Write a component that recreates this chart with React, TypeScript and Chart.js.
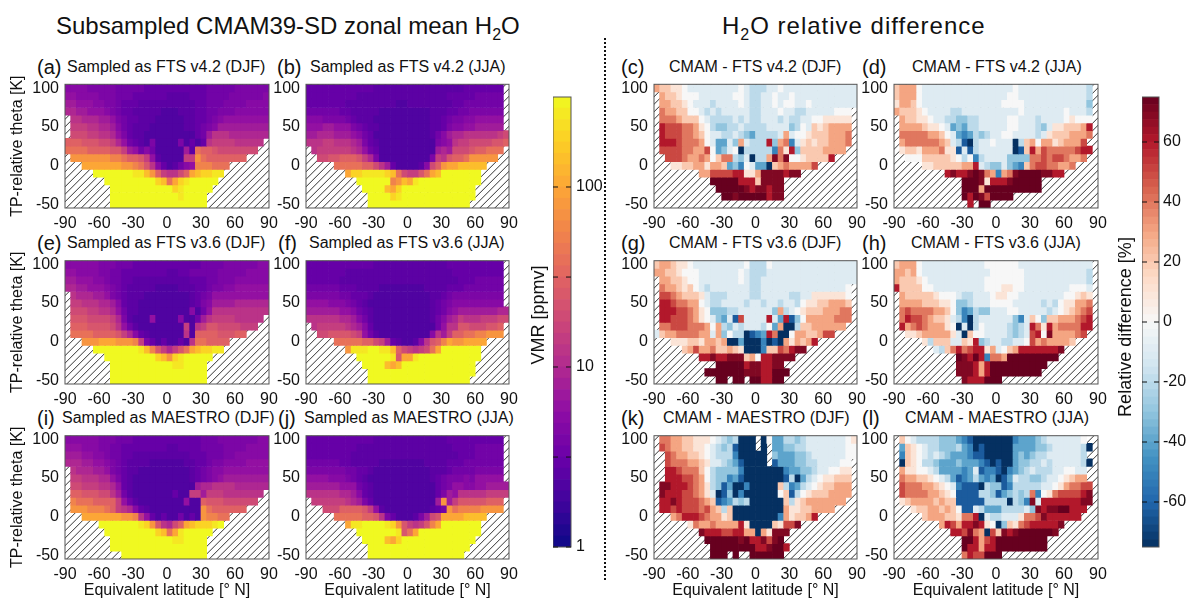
import React, { useEffect, useRef } from "react";
import { Chart, registerables } from "chart.js";

Chart.register(...registerables);
Chart.defaults.font.family = "'Liberation Sans', Arial, sans-serif";

// ---- data: latitude bin centres, theta bin centres ----
const LATS = [-87.5,-82.5,-77.5,-72.5,-67.5,-62.5,-57.5,-52.5,-47.5,-42.5,-37.5,-32.5,-27.5,-22.5,-17.5,-12.5,-7.5,-2.5,2.5,7.5,12.5,17.5,22.5,27.5,32.5,37.5,42.5,47.5,52.5,57.5,62.5,67.5,72.5,77.5,82.5,87.5];
const THETAS = [100,90,80,70,60,50,40,30,20,10,0,-10,-20,-30,-40,-50];
const X_TICKS = [-90,-60,-30,0,30,60,90];
const Y_TICKS = [-50,0,50,100];

// one letter per cell; "." is no data. Letters index the value tables below.
const VMR_CODES = "abcdefghijklmnopqrstuv";
const VMR_VALUES = [2.2,2.6,3,3.6,4.2,5,6,7.5,9.5,12,15,19,24,30,40,55,75,100,140,190,250,316];
const DIFF_CODES = "abcdefghijklmnop";
const DIFF_VALUES = [-75,-63,-50,-40,-30,-20,-10,0,10,20,30,40,50,60,70,75];

const PANEL_A = [
"ffffee eeeddd ddcccc cccccc cddddd eeeeee",
"ggffff eeeddd cccccc bbbbcc cdddde eeeeef",
"hhgggf feedcc cbbbbb bbbbbc cdddee eeffff",
"iihhgg gfedcc bbbbba aabbbc cddeee ffffff",
".jjiii hhgedc cbbbaa aaabbc cdefgg gggggg",
".kkkjj iihfdc bbbaaa aaabbc defhhh hhhhhh",
".lllkk jjigec bbaaaa aaaaac dhjjji iiiiii",
"nnnmmm llkigd cbaeaa aaeaca cjkkkk jjjjj.",
"oooonn nnmmkh gdfdaa aaahbo nnmlll llll..",
".qqqqq qqppon nmkgba aaakkq onnnnn nn....",
"...rrr rrrrqq pomjfc abdfgp ppooo. ......",
".....v vvvvvv uusqnk jjlnrs ttuu.. ......",
"...... .vvvvv vvvvts ortuvv vvv... ......",
"...... ..vvvv vvvvvv vtuvvv vv.... ......",
"...... ..vvvv vvvvvv vvuvvv v..... ......",
"...... ..vvvv vvvvvv vvvvvv v..... ......",
];
const PANEL_B = [
"cccccc cccccc bbbbbb bbbbbb bbbbcc ccccc.",
"cccccc cccbbb bbbbbb bbbbbb bccccc ddddd.",
"cccccc cbbbbb bbbbaa bbbbbb bbccdd ddddd.",
"dddddd ccbbbb baaaaa aaaabb bccdde eeeee.",
"fffeee edcbbb aaaaaa aaaabb cdeeff ggggg.",
"ggghhg ggedcb baaaaa aaaabb ceffgg hhhhh.",
"hhiiih hhgfdc aaaaaa aaaabd fhiijj jjjjkl",
"jjjkkj jjihec baaaaa aaaaae fgjkkl lllmmn",
".jkkkk kkjigd caaaaa aaaaah ihlllm nnooo.",
"..llmm nnnmki eaaaaa aaaaek jmnnoq qqqq..",
".....o oooonn ljhcaa aabfln qrrsss ss....",
"...... .rttuu uutsol kkmors vvvvvv v.....",
"...... ...vvv vvvpqs ruvvvv vvvvvv v.....",
"...... ....vv vvsrtv vvvvvv vvvvvv ......",
"...... .....v vvvtuv vvvvvv vvvvvv ......",
"...... .....v vvvvvv vvvvvv vvvvv. ......",
];
const PANEL_E = [
"ffffff eeeddd cccccc cccccc ddddee eeeeff",
"ggffff eeddcc cccccc bbccdd dddeee eeffff",
"hhgggf feddcc bbbbbb bbbbcc cddeee ffffff",
"iihhgg gfedcb bbbbaa aabbbc cdeeff gggggg",
".jiiih hgedcb bbaaaa aaaabc degggg gggggg",
".kkjjj iihfcb baaaaa aaaabc efhhhh iiiiii",
".lllkk jjigdb baaaaa aaaafa dgjjjj jjjjjj",
".mmmll llkieb aaagaa aafaad hjkkkk jjjjj.",
".nnnmm mmljgd baaaaa aaakaj kmmlll lkkk..",
".oooon nnnmki fcbaaa aaajan nnnmmm nn....",
"...qqq rrrqqq pkecac aacajo onnnn. ......",
".....v vvvvvv vuspmk ikmors ttuu.. ......",
"...... .vvvvv vvvvts qtuvvv vv.... ......",
"...... ..vvvv vvvvvv vuuvvv v..... ......",
"...... ..vvvv vvvvvv vvvvvv v..... ......",
"...... ..vvvv vvvvvv vvvvvv v..... ......",
];
const PANEL_F = [
"cccccc cccccc bbbbbb bbbbbb bccccc ccccc.",
"cccccc cbbbbb bbbbbb bbbbbb bbcccc ccccc.",
"cccccc bbbbbb bbbbbb bbbbbb bbbccc ddddd.",
"dddddd cccbbb baaaaa aaabbb bcccdd ddddd.",
"eeeeee ddcccb aaaaaa aaaabb cdeeee eeeee.",
"ggggff fedcba aaaaaa aaaabc deffff fffff.",
"hhhhhh ggfdcb aaaaaa aaaabc dfghhh hhhhii",
"jjjjjj iihfdb aaaaaa aaaabd fhikjj jkkkll",
".jkkkk kjihfc aaaaaa aaaaad gjjmml llmmn.",
"..llmm mmlkgd baaaaa aaaafj hknnoo ppqqq.",
".....o oooonn lkhcba abfjmn prqqrr rr....",
"...... .quuuv vuusnl kjklor vvvvvv v.....",
"...... ...vvv vvvumr ruvvvv vvvvvv v.....",
"...... ....vv vvsrsv vvvvvv vvvvvv ......",
"...... .....v vvvvvv vvvvvv vvvvvv ......",
"...... .....v vvvvvv vvvvvv vvvvv. ......",
];
const PANEL_I = [
"ffffff eeeddd cccccc cccccc dddeee eeeeff",
"gggfff eeddcc cccccc bbcccc ddddee eeffff",
"hhhggf feddcc bbbbbb bbbbcc cdddee ffffff",
"iiihhg gfedcb bbbaaa aaabbc cdeeff ffgggg",
".jiiih hgedcb baaaaa aaaabc deffgg gggggg",
".kkjjj iigecb aaaaaa aaaabc defghh hhhhhh",
".llkkk jjigcb aaaaaa aaaaah iijjjj iiiiii",
".nnmmm lljhdb aaaaaa acaakk hkkkjj jjjjj.",
".pooon nnnkgd baaaaa aaagaa nmmmll llll..",
".qqqpp ponkji fcbaaa aaaaaa qonnnn nn....",
"...rrr rrrrqq pjgcac aadaca qppoo. ......",
"...... vvvvvv vutqmj ilnrst ttuv.. ......",
"...... .vvvvv vvvvts oruvvv vv.... ......",
"...... ..vvvv vvvvvv vuuvvv v..... ......",
"...... ..vvvv vvvvvv vvvvvv v..... ......",
"...... ....vv vvvvvv vvvvvv v..... ......",
];
const PANEL_J = [
"cccccc cccccc bbbbbb bbbbbb bccccc ccccc.",
"cccccc cccbbb bbbbbb bbbbbb bbcccc ddddd.",
"cccccc ccbbbb bbbbbb bbbbbb bbbccc ddddd.",
"dddddd ccbbbb baaaaa aaabbb bcccdd ddddd.",
"eeeeee eddccb aaaaaa aaaabb bcdddd eeeee.",
"ggggff fedcba aaaaaa aaaabc deeefe ggggg.",
"hhhhhh gggdcb aaaaaa aaaaac deggff gghhhh",
"jjjjjj iihfcb aaaaaa aaaaac ehgjjj jjkkkk",
".kkkkk kjihec aaaaaa aaaaah qhkmmm mmnnn.",
"...lll nnnnmk gbaaaa aaaabc dqoppp pqqqq.",
".....o oooonn mjecaa abehlm rrrrss ss....",
"...... .ruuvv vvutqm kjkmpr vvvvvv v.....",
"...... ...vvv vvvvum orvvvv vvvvvv v.....",
"...... ....vv vvsrtv vvvvvv vvvvvv ......",
"...... .....v vvvvvv vvvvvv vvvvv. ......",
"...... .....v vvvvvv vvvvvv vvvv.. ......",
];
const PANEL_C = [
"kjjiih gggggg ggghgf ffgghg gggggg gggggg",
".kjjih hhgggg gghhgf fgghgg hggggg gggggg",
".kkjji hgggfg ggghgf fgghgh hgghgg gggggg",
".lkkjj hhgfgf gggggf fggghg gffggg gghhh.",
".lllkj jjhgff ffgfgf fgggfg ffgghh iiiii.",
".nmmml lkihfe effgff ffgggg efhgji jkkkk.",
".nmmml lkjhgg ffgfed ffffgk ghhijj jkkkl.",
".nnnml llkhgd dgekgf ffnekl cgijij jkkkl.",
".mmmml lkkmhd eghaff fffcli nejjjj kkkk..",
"..mmml kklkhj llfega ffkolo hhijjj jn....",
"...iij jkkikk jdechg ddajkl kkkkm. ......",
"...... ..kkmm mmnnii koooon oo.... ......",
"...... ....pp pppnnn joooo. ...... ......",
"...... .....p ppppon oonoo. ...... ......",
"...... ...... ppoppp ppnoo. ...... ......",
"...... ...... ...... ...... ...... ......",
];
const PANEL_D = [
"jkkkhg gggggg gggggg ggghgg gggggg ggggf.",
"jkkkhg gggggg gggggg gghhgg gggggg ggggf.",
"ikkjhg gggggg gggggg ghhhhg gggggg gggge.",
"kjjjih ggggff gggggg gggghg gggggg hgggf.",
".kjjii hggffe effggg gghhgg gfgggg hihhh.",
".kkkkj iihgde dffggg gghhgg gfegii jjjkn.",
".lllll kkjhgd cdfefg ghhggg gfgijj jkkkl.",
".kllll llkjgf bafggh gggafj khkkij kkkm..",
".ijjik kkliib gbfggg gggabj nkmlll llmnn.",
"..hhhj jjjjih fhcfgg ggeeee llmlmm lkkl..",
".....i ijjjjj kkngfe egedcj lmmllk kl....",
"...... ...non nopolk cklopp ppoonn ......",
"...... ...... pppoin nnoppp pp.... ......",
"...... ...... pppkpp pppppp pp.... ......",
"...... ...... pnpomp ppp... ...... ......",
"...... ...... .n.pp. ...... ...... ......",
];
const PANEL_G = [
"jkkjii hggggg gggghf ffhggg gggggg gggggg",
"kkjjih hhgggg ggghgf ffgggg gggggg gggggg",
".kkjji hhgggg ggghgf fggggg gggggg gggggg",
".lkkji jhgfgg gggggf fggggg gggggg ggggh.",
".mmlkj jjigff fggggf fggggg ffggii iiiih.",
".nnmll kkhgff ggggfg gfggfg gfhiij jkkkj.",
".nnnmm lkihee effggg gggekf ghijjj kkkll.",
".nnmmm lkihge dgbmgg ggngdn behkkk kklll.",
".llmmm lllkhk fegfgg gfhdka afjjkk kkkk..",
"gjkkll llkkgk ehffab cdnlaa hkkjjk mm....",
"...iii jjikkj kaadaa acabak ikjkn. ......",
".....j kmkklj jkjiaa acjjml noo... ......",
"...... ..nnon nooojk hnnooo o..... ......",
"...... .....p ppppno onnoo. ...... ......",
"...... ...ppp ppppoo onnppp ...... ......",
"...... .....p p.pp.p pnnpp. ...... ......",
];
const PANEL_H = [
"jkkkhg gggggg gggghh hhhhgg gggggg ggggg.",
"kkjkhg gggggg gggggh hhhhhg gggggg ggggf.",
"kjjjih gggggg gggghh hhhhhg gggggg ggggf.",
"njjjjh hggggg gggghh hiihhg gggggg ghhhg.",
".kjjjj jihhhg ffgggh iihhgg gggggg hhiji.",
".kkkkj jjiihe efgggh hhhggg ggfgfh iikkl.",
".lmlll lkkjhe cdfeeg gghhgg gggfgh ijklm.",
".lnmml kjjigf cafggg gggecg jhejjk kklmn.",
".nklml kkkiha gafhgg ggfefg nlinkl lllnn.",
"..iijk kkkkig ajhhgg ggfefg mnhokk kklm..",
".....i fjjjgg jinefg gffggh mklkkk kj....",
"...... .gfjln lmnnik ghjknn nnnnno ......",
"...... .....p onpncl lkpppp ppppp. ......",
"...... .....o oonknp pppppp ppp... ......",
"...... .....o oonknp pppppp pp.... ......",
"...... ...... onnnpp p..... ...... ......",
];
const PANEL_K = [
".llkkj jiiihg fefaaa .ahddf fefggg gggghi",
".mlkkj jiihgf efbaaa .a.dde effggg gggghh",
"..mlkk jjihgf ffcaaa aa.edd deefgg gggghh",
"..mlll kkjigg fedbaa aa.bdd deeffg ggghh.",
"..nnml lljhfe eeecaa aaaaac ddeefg ghhii.",
"..nnnm mlkhfe ecdbaa aaaaab fadfgh iijjj.",
".oonnn mlkife bdaaca aaaajf cdfghi jjkkk.",
".onnnm mlkiga beacaa aaaahj bfhijj jkkkk.",
".nnonm mmlkjb cdfefa aaaaaj fijkkk kkkk..",
".nnmnm mmlmkj fjaaaa aaaaak iijjkk kk....",
"...kln nnmlkk ijaaaa aaaack ijjkn. ......",
"...... ilkklk kkknia aaajim mo.... ......",
"...... ..onnn mmnnkk akiooo ...... ......",
"...... ...ppp pppopn nomop. ...... ......",
"...... ....pp pppppp nnoppn ...... ......",
"...... ....pp p.p..p ppppp. ...... ......",
];
const PANEL_L = [
".jhgff ffeeed cbaaaa aaacdd defggg gggh..",
".djihg ffeeef dcabaa aaaddd deefgg gggfa.",
".cjihg fgfedd dcbbaa aaaded effggg gggf..",
".ajihf feddde dddcba baadee ffgfgg gggfa.",
".kiihh gfdddd cdgbcc bacdef gfffgg hhgg..",
".lkkjj ihgfdb cdfdcd abdgff eefggh ijkk..",
".mlllk kjihgc bbbafe ebcfff ffgghi kllmm.",
".mllll kkjihb bbbffe bdefef lchilm mmmno.",
".ijkkk kjkjjb bbbbff ffafec ognnnn nnnoo.",
"...ijj kkjkjh bbgfdd dffffg eonoop pnnn..",
".....j kkkjji llnagf fgggil lmonnn nnn...",
"...... ..knmk nnonih aejilm nnnnno ......",
"...... ....nn molkam jonopp ppppo. ......",
"...... ...... ppnkmn pppppp ppp... ......",
"...... ...... pnnknn pppppp ppp... ......",
"...... ...... lnmmpp p..... ...... ......",
];

// colour bar levels and ticks
const VMR_EDGES = [1,1.15,1.33,1.54,1.78,2.05,2.37,2.74,3.16,3.65,4.22,4.87,5.62,6.49,7.5,8.66,10,11.5,13.3,15.4,17.8,20.5,23.7,27.4,31.6,36.5,42.2,48.7,56.2,64.9,75,86.6,100,115,133,154,178,205,237,274,316.2];
const VMR_TICKS = [1,3.16,10,31.6,100];
const VMR_LABELLED = [1,10,100];
const DIFF_EDGES = [-75,-72.5,-70,-67.5,-65,-62.5,-60,-57.5,-55,-52.5,-50,-47.5,-45,-42.5,-40,-37.5,-35,-32.5,-30,-27.5,-25,-22.5,-20,-17.5,-15,-12.5,-10,-7.5,-5,-2.5,0,2.5,5,7.5,10,12.5,15,17.5,20,22.5,25,27.5,30,32.5,35,37.5,40,42.5,45,47.5,50,52.5,55,57.5,60,62.5,65,67.5,70,72.5,75];
const DIFF_TICKS = [-60,-40,-20,0,20,40,60];

const PLASMA = ["#0d0887","#41049d","#6a00a8","#8f0da4","#b12a90","#cc4778","#e16462","#f1844b","#fca636","#fcce25","#f0f921"];
const RDBU = ["#053061","#2166ac","#4393c3","#92c5de","#d1e5f0","#f7f7f7","#fddbc7","#f4a582","#d6604d","#b2182b","#67001f"];

function ramp(stops: string[], t: number) {
  const c = Math.max(0, Math.min(1, t)) * (stops.length - 1);
  const i = Math.min(stops.length - 2, Math.floor(c));
  const f = c - i;
  const p = (s: string, k: number) => parseInt(s.substr(1 + k * 2, 2), 16);
  const m = (k: number) => Math.round(p(stops[i], k) * (1 - f) + p(stops[i + 1], k) * f);
  return `rgb(${m(0)},${m(1)},${m(2)})`;
}
const vmrColor = (v: number) => ramp(PLASMA, Math.log10(v) / 2.5);
const diffColor = (v: number) => ramp(RDBU, (v + 75) / 150);

const FONT = "'Liberation Sans', Arial, sans-serif";

const hatchPlugin = {
  id: "hatch",
  beforeDatasetsDraw(chart: any) {
    const { ctx, chartArea: a } = chart;
    ctx.save();
    ctx.beginPath();
    ctx.rect(a.left, a.top, a.right - a.left, a.bottom - a.top);
    ctx.clip();
    ctx.strokeStyle = "#333";
    ctx.lineWidth = 1;
    ctx.beginPath();
    const h = a.bottom - a.top;
    for (let x = a.left - 10; x < a.right + h + 10; x += 7.5) {
      ctx.moveTo(x, a.top);
      ctx.lineTo(x - h, a.bottom);
    }
    ctx.stroke();
    ctx.restore();
  },
};
const framePlugin = {
  id: "frame",
  afterDatasetsDraw(chart: any) {
    const { ctx, chartArea: a } = chart;
    ctx.save();
    ctx.strokeStyle = "#555";
    ctx.lineWidth = 1;
    ctx.strokeRect(a.left, a.top, a.right - a.left, a.bottom - a.top);
    const y = chart.scales.y;
    if (chart.options.plugins.frame?.innerTicks) {
      ctx.strokeStyle = "#111";
      y.ticks.forEach((t: any) => {
        const py = y.getPixelForValue(t.value);
        ctx.beginPath();
        ctx.moveTo(a.left, py); ctx.lineTo(a.left + 5, py);
        ctx.moveTo(a.right - 5, py); ctx.lineTo(a.right, py);
        ctx.stroke();
      });
    }
    ctx.restore();
  },
};

type PanelProps = {
  rows: string[]; kind: "vmr" | "diff"; px: number; py: number; pw: number; ph: number;
  lm: number; bm: number; yTitle?: boolean; xTitle?: boolean;
};

function Panel({ rows, kind, px, py, pw, ph, lm, bm, yTitle, xTitle }: PanelProps) {
  const ref = useRef<HTMLCanvasElement>(null);
  const tm = 20, rm = 16;
  const top = Math.floor(py) - tm;
  const topPad = py - top;
  useEffect(() => {
    const codes = kind === "vmr" ? VMR_CODES : DIFF_CODES;
    const values = kind === "vmr" ? VMR_VALUES : DIFF_VALUES;
    const colorOf = kind === "vmr" ? vmrColor : diffColor;
    const datasets = rows.map((row, r) => {
      const cells = row.replace(/ /g, "");
      const data: any[] = [];
      LATS.forEach((lat, c) => {
        const k = codes.indexOf(cells[c]);
        if (k >= 0) data.push({ x: lat, y: [THETAS[r] - 5, THETAS[r] + 5], v: values[k] });
      });
      return {
        data,
        grouped: false,
        barPercentage: 1,
        categoryPercentage: 1,
        borderWidth: 0,
        backgroundColor: (ctx: any) => (ctx.raw ? colorOf(ctx.raw.v) : "transparent"),
      };
    });
    const chart = new Chart(ref.current as HTMLCanvasElement, {
      type: "bar",
      data: { datasets } as any,
      plugins: [hatchPlugin, framePlugin],
      options: {
        animation: false,
        responsive: false,
        events: [],
        layout: { padding: { top: topPad, right: rm, left: 0, bottom: 0 } },
        plugins: { legend: { display: false }, tooltip: { enabled: false } },
        scales: {
          x: {
            type: "linear", min: -90, max: 90, offset: false,
            grid: { display: false, drawTicks: false, offset: false }, border: { display: false },
            afterBuildTicks: (s: any) => { s.ticks = X_TICKS.map((value) => ({ value })); },
            afterFit: (s: any) => { s.height = bm; },
            ticks: { autoSkip: false, maxRotation: 0, padding: 6, color: "#111", font: { size: 16 }, callback: (v: any) => String(v) },
            title: { display: !!xTitle, text: "Equivalent latitude [° N]", color: "#111", font: { size: 16 }, padding: { top: 0, bottom: 0 } },
          },
          y: {
            type: "linear", min: -55, max: 105,
            grid: { display: false, drawTicks: false }, border: { display: false },
            afterBuildTicks: (s: any) => { s.ticks = Y_TICKS.map((value) => ({ value })); },
            afterFit: (s: any) => { s.width = lm; },
            ticks: { autoSkip: false, padding: 6, color: "#111", font: { size: 16 }, callback: (v: any) => String(v) },
            title: { display: !!yTitle, text: "TP-relative theta [K]", color: "#111", font: { size: 16 }, padding: { top: 8, bottom: 0 } },
          },
        },
      } as any,
    });
    return () => chart.destroy();
  }, []);
  return (
    <canvas ref={ref} width={lm + pw + rm} height={Math.ceil(topPad + ph + bm)}
      style={{ position: "absolute", left: px - lm, top, display: "block" }} />
  );
}

function ColorBar({ kind, left, width, labelSpace, padding }: { kind: "vmr" | "diff"; left: number; width: number; labelSpace: number; padding: number }) {
  const ref = useRef<HTMLCanvasElement>(null);
  useEffect(() => {
    const edges = kind === "vmr" ? VMR_EDGES : DIFF_EDGES;
    const colorOf = kind === "vmr" ? vmrColor : diffColor;
    const datasets = edges.slice(0, -1).map((lo, i) => {
      const hi = edges[i + 1];
      const mid = kind === "vmr" ? Math.sqrt(lo * hi) : (lo + hi) / 2;
      return { data: [[lo, hi]], grouped: false, barPercentage: 1, categoryPercentage: 1, borderWidth: 0, backgroundColor: colorOf(mid) };
    });
    const ticks = kind === "vmr" ? VMR_TICKS : DIFF_TICKS;
    const chart = new Chart(ref.current as HTMLCanvasElement, {
      type: "bar",
      data: { labels: [kind], datasets } as any,
      plugins: [framePlugin],
      options: {
        animation: false,
        responsive: false,
        events: [],
        layout: { padding: { top: 20, bottom: 20, left: 0, right: 0 } },
        plugins: { legend: { display: false }, tooltip: { enabled: false }, frame: { innerTicks: true } },
        scales: {
          x: { display: false },
          y: {
            type: kind === "vmr" ? "logarithmic" : "linear",
            position: "right",
            min: kind === "vmr" ? 1 : -75,
            max: kind === "vmr" ? 316.2 : 75,
            grid: { display: false, drawTicks: false }, border: { display: false },
            afterBuildTicks: (s: any) => { s.ticks = ticks.map((value) => ({ value })); },
            afterFit: (s: any) => { s.width = labelSpace; },
            ticks: {
              autoSkip: false, padding, color: "#111", font: { size: 16 },
              callback: (v: any) => (kind === "vmr" ? (VMR_LABELLED.includes(v) ? String(v) : "") : String(v)),
            },
          },
        },
      } as any,
    });
    return () => chart.destroy();
  }, []);
  return (
    <canvas ref={ref} width={width + labelSpace} height={490}
      style={{ position: "absolute", left, top: 77, display: "block" }} />
  );
}

function Label({ x, y, size, children, rotate, spacing }: { x: number; y: number; size: number; children: any; rotate?: boolean; spacing?: number }) {
  const style: any = {
    position: "absolute", left: x, top: y, fontFamily: FONT, fontSize: size, lineHeight: 1,
    whiteSpace: "nowrap", color: "#111", letterSpacing: spacing || 0,
    transform: rotate ? "translate(-50%,-50%) rotate(-90deg)" : "translateY(-50%)",
  };
  return <div style={style}>{children}</div>;
}

const COLS = [{ px: 65, pw: 204 }, { px: 306, pw: 203 }, { px: 654, pw: 203 }, { px: 894, pw: 204 }];
const ROWS = [{ py: 84.3, ph: 123.4 }, { py: 260.7, ph: 122.6 }, { py: 435.7, ph: 122.6 }];

const PANEL_TABLE: { rows: string[]; kind: "vmr" | "diff"; c: number; r: number }[] = [
  { rows: PANEL_A, kind: "vmr", c: 0, r: 0 }, { rows: PANEL_B, kind: "vmr", c: 1, r: 0 },
  { rows: PANEL_C, kind: "diff", c: 2, r: 0 }, { rows: PANEL_D, kind: "diff", c: 3, r: 0 },
  { rows: PANEL_E, kind: "vmr", c: 0, r: 1 }, { rows: PANEL_F, kind: "vmr", c: 1, r: 1 },
  { rows: PANEL_G, kind: "diff", c: 2, r: 1 }, { rows: PANEL_H, kind: "diff", c: 3, r: 1 },
  { rows: PANEL_I, kind: "vmr", c: 0, r: 2 }, { rows: PANEL_J, kind: "vmr", c: 1, r: 2 },
  { rows: PANEL_K, kind: "diff", c: 2, r: 2 }, { rows: PANEL_L, kind: "diff", c: 3, r: 2 },
];

const LETTERS: [string, number, number][] = [
  ["(a)", 37, 67], ["(b)", 277, 67], ["(c)", 621, 67], ["(d)", 862, 67],
  ["(e)", 37, 243], ["(f)", 278, 243], ["(g)", 621, 243], ["(h)", 862, 243],
  ["(i)", 37, 418], ["(j)", 278, 418], ["(k)", 621, 418], ["(l)", 862, 418],
];
const TITLES: [string, number, number][] = [
  ["Sampled as FTS v4.2 (DJF)", 67, 67], ["Sampled as FTS v4.2 (JJA)", 310, 67],
  ["CMAM - FTS v4.2 (DJF)", 669, 67], ["CMAM - FTS v4.2 (JJA)", 912, 67],
  ["Sampled as FTS v3.6 (DJF)", 67, 243], ["Sampled as FTS v3.6 (JJA)", 309, 243],
  ["CMAM - FTS v3.6 (DJF)", 669, 243], ["CMAM - FTS v3.6 (JJA)", 911, 243],
  ["Sampled as MAESTRO (DJF)", 62, 418], ["Sampled as MAESTRO (JJA)", 304, 418],
  ["CMAM - MAESTRO (DJF)", 663, 418], ["CMAM - MAESTRO (JJA)", 905, 418],
];

export default function App() {
  return (
    <div style={{ position: "absolute", left: 0, top: 0, width: 1186, height: 600, overflow: "hidden", background: "#fff" }}>
      <Label x={56} y={26} size={24}>Subsampled CMAM39-SD zonal mean H<sub style={{ fontSize: 16, lineHeight: 0 }}>2</sub>O</Label>
      <Label x={722} y={26} size={24} spacing={1}>H<sub style={{ fontSize: 16, lineHeight: 0 }}>2</sub>O relative difference</Label>
      {LETTERS.map(([t, x, y]) => <Label key={t} x={x} y={y} size={20}>{t}</Label>)}
      {TITLES.map(([t, x, y]) => <Label key={t} x={x} y={y} size={16}>{t}</Label>)}
      <div style={{ position: "absolute", left: 604, top: 38, height: 542, borderLeft: "2px dotted #111" }} />
      {PANEL_TABLE.map((p, i) => {
        const col = COLS[p.c];
        const row = ROWS[p.r];
        const lm = p.c === 0 ? col.px : 38;
        const bm = p.r === 2 ? 600 - Math.ceil(row.py + row.ph) : 26;
        return <Panel key={i} rows={p.rows} kind={p.kind} px={col.px} py={row.py} pw={col.pw} ph={row.ph}
          lm={lm} bm={bm} yTitle={p.c === 0} xTitle={p.r === 2} />;
      })}
      <ColorBar kind="vmr" left={553} width={18} labelSpace={40} padding={5} />
      <ColorBar kind="diff" left={1142} width={17} labelSpace={27} padding={4} />
      <Label x={538} y={315} size={18} rotate>VMR [ppmv]</Label>
      <Label x={1125} y={327} size={18} rotate>Relative difference [%]</Label>
    </div>
  );
}
